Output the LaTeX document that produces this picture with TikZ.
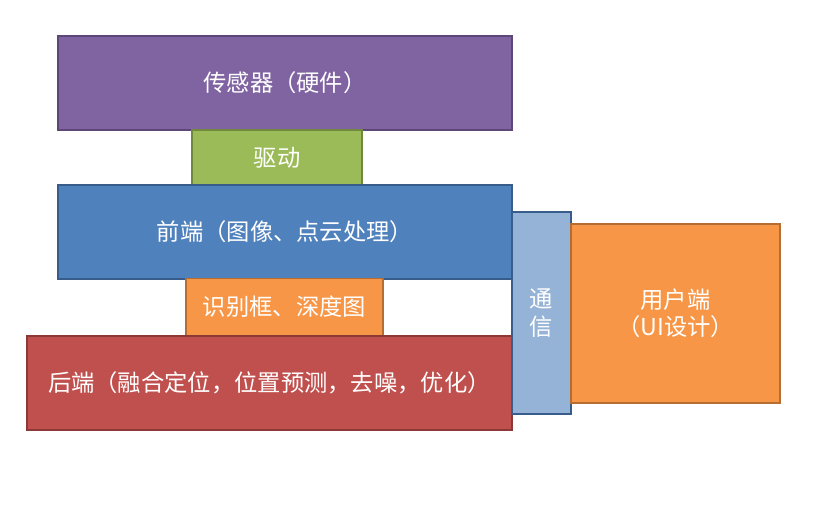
\documentclass[tikz,border=0pt]{standalone}
\usepackage{fontspec}
\newfontfamily\cjk{Noto Sans CJK SC}
\usepackage{tikz}
\usetikzlibrary{positioning}
\definecolor{purplefill}{HTML}{8064A2}
\definecolor{purpleline}{HTML}{5C4776}
\definecolor{greenfill}{HTML}{9BBB59}
\definecolor{greenline}{HTML}{71893F}
\definecolor{bluefill}{HTML}{4F81BD}
\definecolor{blueline}{HTML}{385D8A}
\definecolor{lightbluefill}{HTML}{95B3D7}
\definecolor{orangefill}{HTML}{F79646}
\definecolor{orangeline}{HTML}{B66D31}
\definecolor{redfill}{HTML}{C0504D}
\definecolor{redline}{HTML}{8C3836}

\begin{document}
\begin{tikzpicture}[x=1pt,y=-1pt,
    every node/.style={rectangle,draw,line width=1.8pt,text=white,align=center,
        inner sep=0pt,font=\cjk\fontsize{23.3}{27.5}\selectfont}]
    \useasboundingbox (0,0) rectangle (833,516);
    % 各层方框
    \node (sensor) [fill=purplefill,draw=purpleline,minimum width=454pt,minimum height=94pt] at (285,83) {传感器（硬件）};
    \node (driver) [fill=greenfill,draw=greenline,minimum width=170pt,minimum height=55pt] at (277,157.5) {驱动};
    \node (front) [fill=bluefill,draw=blueline,minimum width=454pt,minimum height=94pt] at (285,232) {前端（图像、点云处理）};
    \node (detect) [fill=orangefill,draw=orangeline,minimum width=197pt,minimum height=57pt] at (284.5,307) {识别框、深度图};
    \node (back) [fill=redfill,draw=redline,minimum width=485pt,minimum height=94pt,
        text width=443pt,align=left] at (269.5,383) {后端（融合定位，位置预测，去噪，优化）};

    % 通信与用户端
    \node (comm) [fill=lightbluefill,draw=blueline,minimum width=59pt,minimum height=202pt] at (541.5,313) {通\\信};
    \node (user) [fill=orangefill,draw=orangeline,minimum width=209pt,minimum height=179pt] at (675.5,313.5) {用户端\\（UI设计）};
\end{tikzpicture}
\end{document}
